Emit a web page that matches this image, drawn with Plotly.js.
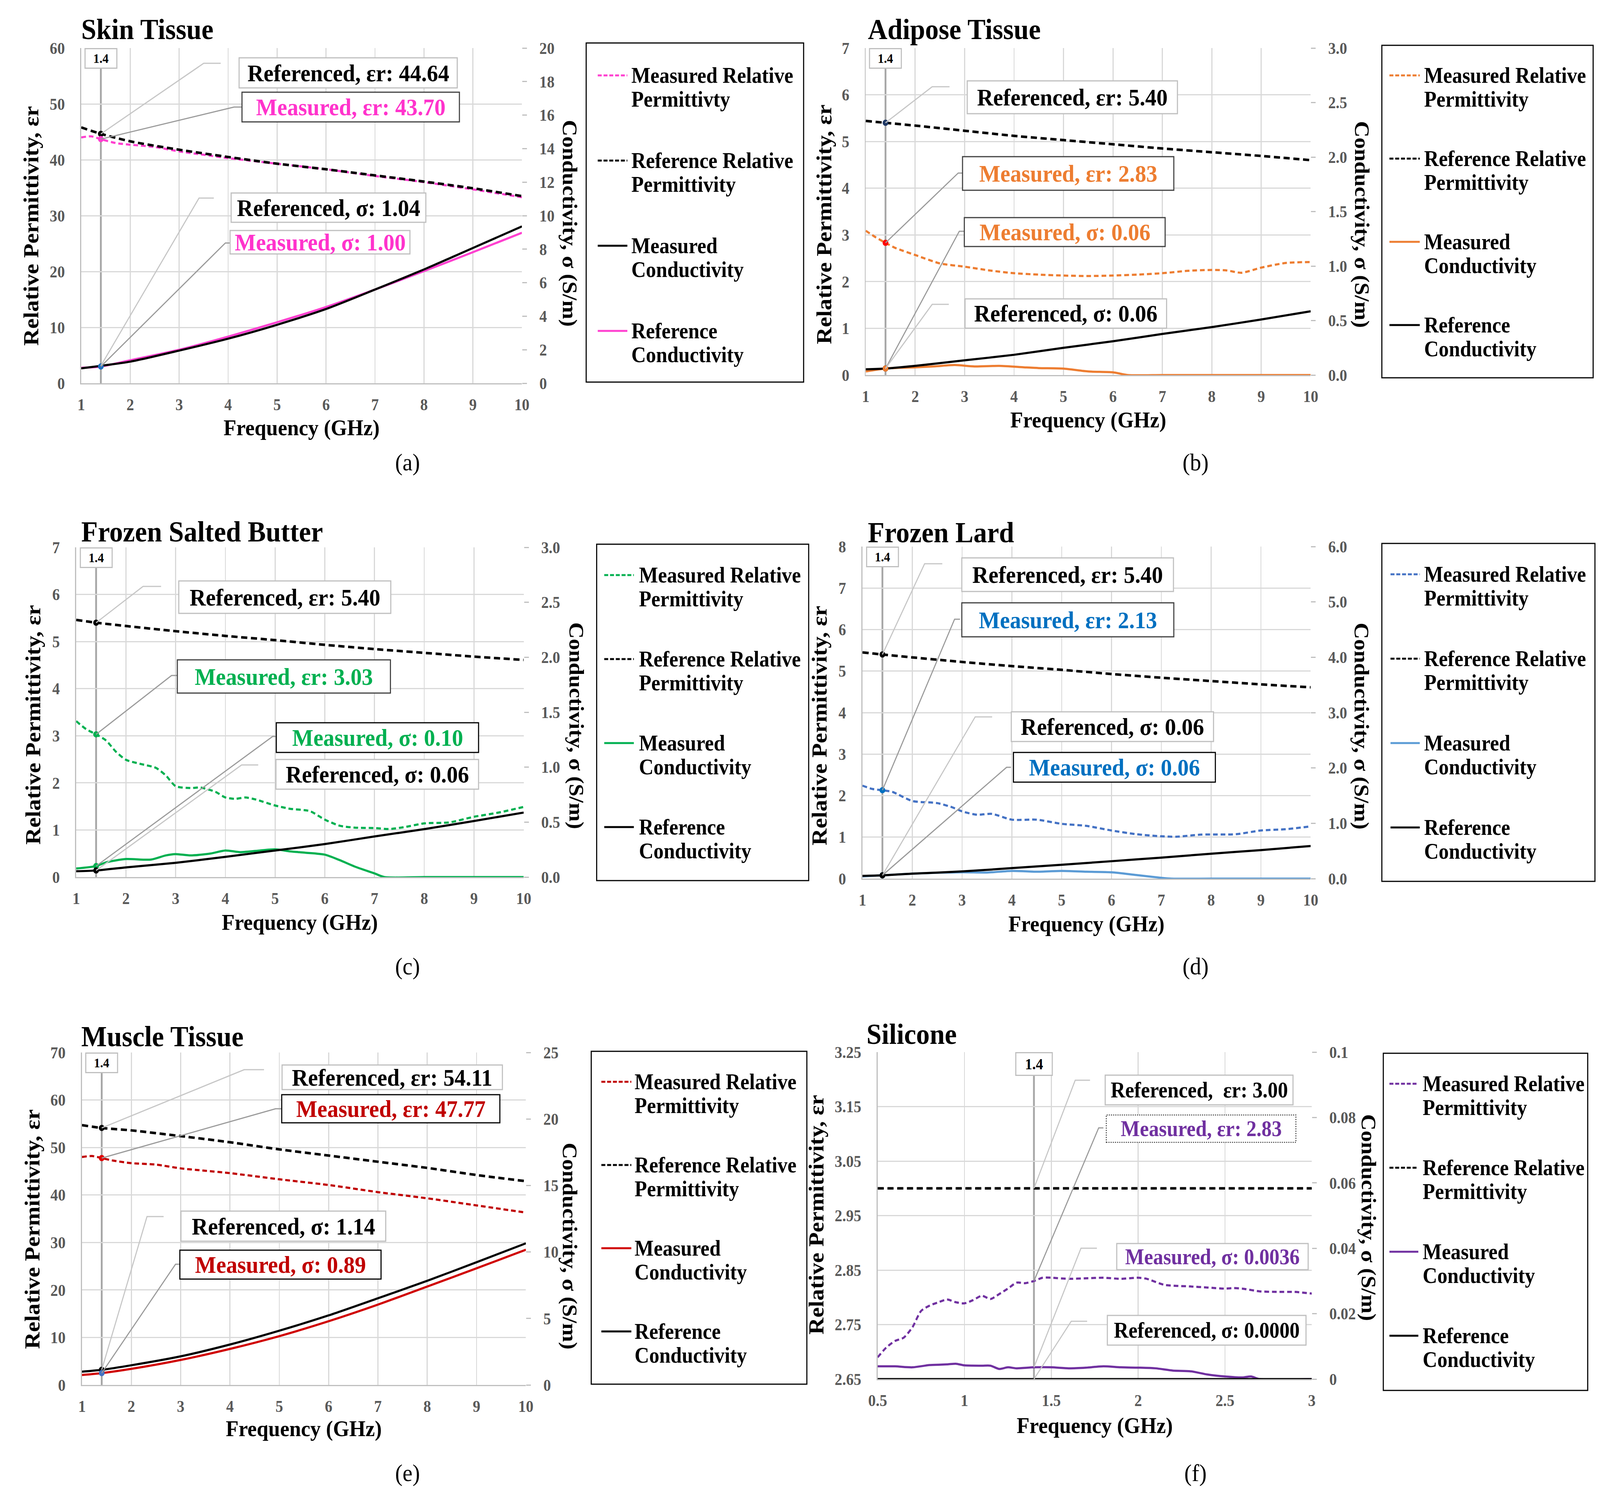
<!DOCTYPE html>
<html>
<head>
<meta charset="utf-8">
<script src="https://cdn.plot.ly/plotly-3.0.1.min.js"></script>
<style>
html, body { margin: 0; padding: 0; background: #fff; overflow: hidden; }
#chart { position: absolute; left: 0; top: 0; width: 4430px; height: 3819px; transform-origin: 0 0; }
</style>
</head>
<body>
<div id="chart"></div>
<script>
"use strict";

// the figure is drawn on the 4430 x 3819 grid of the original and scaled to the window
const W = 4430;
const H = 3819;
const FONT = "Liberation Serif, Times New Roman, serif";
const MARK_X = 1.4;

// ---- values ----

// (a) skin
const skinFreq = [1, 1.4, 2, 3, 4, 5, 6, 7, 8, 9, 10];
const skinRefEr = [45.8, 44.64, 43.3, 41.8, 40.5, 39.3, 38.3, 37.2, 36.1, 34.9, 33.5];
const skinMeasFreq = [1, 1.2, 1.4, 1.7, 2, 2.5, 3, 3.5, 4, 5, 6, 7, 8, 9, 10];
const skinMeasEr = [44.0, 44.2, 43.70, 43.0, 42.7, 42.3, 41.5, 40.9, 40.3, 39.3, 38.3, 37.1, 36.0, 34.7, 33.3];
const skinRefSigma = [0.89, 1.04, 1.29, 1.95, 2.66, 3.49, 4.43, 5.59, 6.79, 8.07, 9.36];
const skinMeasSigma = [0.92, 1.00, 1.37, 2.0, 2.78, 3.64, 4.55, 5.59, 6.69, 7.82, 8.98];

// (b) adipose
const adiposeFreq = [1, 1.4, 2, 3, 4, 5, 6, 7, 8, 9, 10];
const adiposeRefEr = [5.44, 5.40, 5.34, 5.23, 5.12, 5.03, 4.94, 4.85, 4.77, 4.69, 4.60];
const adiposeRefSigma = [0.053, 0.06, 0.084, 0.135, 0.186, 0.25, 0.31, 0.377, 0.44, 0.51, 0.585];
const adiposeMeasFreq = [1, 1.2, 1.4, 1.6, 2, 2.5, 3, 3.5, 4, 4.5, 5, 5.5, 6, 6.5, 7, 7.5, 8, 8.3, 8.6, 9, 9.5, 10];
const adiposeMeasEr = [3.09, 2.95, 2.83, 2.72, 2.57, 2.39, 2.32, 2.24, 2.18, 2.15, 2.13, 2.12, 2.13, 2.15, 2.18, 2.23, 2.25, 2.24, 2.19, 2.30, 2.40, 2.42];
const adiposeSigmaFreq = [1, 1.4, 2, 2.4, 2.8, 3.2, 3.7, 4.2, 4.5, 5, 5.5, 6, 6.3, 7, 8, 9, 10];
const adiposeMeasSigma = [0.033, 0.06, 0.071, 0.08, 0.092, 0.079, 0.084, 0.071, 0.064, 0.059, 0.033, 0.025, 0, 0, 0, 0, 0];

// (c) frozen salted butter
const butterFreq = [1, 1.4, 2, 3, 4, 5, 6, 7, 8, 9, 10];
const butterRefEr = [5.46, 5.40, 5.33, 5.22, 5.12, 5.03, 4.93, 4.84, 4.76, 4.68, 4.61];
const butterRefSigma = [0.053, 0.06, 0.088, 0.13, 0.184, 0.242, 0.30, 0.37, 0.436, 0.51, 0.587];
const butterMeasFreq = [1, 1.2, 1.4, 1.6, 1.8, 2, 2.3, 2.6, 2.8, 3, 3.3, 3.5, 3.8, 4, 4.2, 4.4, 4.6, 5, 5.3, 5.7, 6, 6.3, 6.6, 7, 7.3, 7.6, 8, 8.5, 9, 9.5, 10];
const butterMeasEr = [3.31, 3.14, 3.03, 2.90, 2.66, 2.49, 2.40, 2.32, 2.16, 1.93, 1.89, 1.90, 1.81, 1.69, 1.66, 1.69, 1.65, 1.52, 1.45, 1.40, 1.22, 1.09, 1.05, 1.04, 1.02, 1.06, 1.14, 1.16, 1.28, 1.37, 1.49];
const butterSigmaFreq = [1, 1.4, 1.6, 2, 2.5, 2.8, 3, 3.3, 3.7, 4, 4.3, 4.7, 5, 5.3, 5.6, 6, 6.3, 6.6, 7, 7.2, 8, 9, 10];
const butterMeasSigma = [0.078, 0.10, 0.134, 0.164, 0.159, 0.197, 0.209, 0.197, 0.214, 0.242, 0.227, 0.242, 0.252, 0.234, 0.222, 0.204, 0.154, 0.096, 0.033, 0, 0, 0, 0];

// (d) frozen lard
const lardFreq = [1, 1.4, 2, 3, 4, 5, 6, 7, 8, 9, 10];
const lardRefEr = [5.45, 5.40, 5.33, 5.22, 5.12, 5.03, 4.93, 4.84, 4.76, 4.68, 4.61];
const lardRefSigma = [0.05, 0.06, 0.09, 0.13, 0.19, 0.25, 0.315, 0.38, 0.45, 0.516, 0.59];
const lardMeasFreq = [1, 1.2, 1.4, 1.6, 2, 2.5, 2.8, 3, 3.3, 3.6, 4, 4.5, 5, 5.5, 6, 6.5, 7, 7.3, 7.8, 8.5, 9, 9.5, 10];
const lardMeasEr = [2.24, 2.16, 2.13, 2.09, 1.87, 1.82, 1.72, 1.62, 1.54, 1.56, 1.42, 1.42, 1.32, 1.27, 1.16, 1.07, 1.02, 1.01, 1.06, 1.07, 1.16, 1.19, 1.26];
const lardSigmaFreq = [1, 1.4, 2, 3, 3.5, 4, 4.5, 5, 5.5, 6, 6.5, 7, 7.2, 8, 9, 10];
const lardMeasSigma = [0.04, 0.06, 0.09, 0.115, 0.11, 0.14, 0.125, 0.14, 0.125, 0.115, 0.065, 0.015, 0, 0, 0, 0];

// (e) muscle
const muscleFreq = [1, 1.4, 2, 3, 4, 5, 6, 7, 8, 9, 10];
const muscleRefEr = [54.7, 54.11, 53.6, 52.4, 51.1, 49.6, 48.3, 47.0, 45.7, 44.2, 42.9];
const muscleRefSigma = [1.0, 1.14, 1.48, 2.15, 3.04, 4.08, 5.23, 6.52, 7.83, 9.23, 10.65];
const muscleMeasFreq = [1, 1.2, 1.4, 1.6, 2, 2.5, 3, 3.5, 4, 5, 6, 7, 8, 9, 10];
const muscleMeasEr = [48.0, 48.2, 47.77, 47.3, 46.7, 46.4, 45.6, 45.1, 44.6, 43.3, 42.1, 40.6, 39.3, 37.8, 36.3];
const muscleMeasSigma = [0.75, 0.89, 1.21, 1.88, 2.71, 3.67, 4.79, 6.04, 7.40, 8.77, 10.17];

// (f) silicone
const siliconeFreq = [0.5, 1, 1.4, 1.5, 2, 2.5, 3];
const siliconeRefEr = [3.00, 3.00, 3.00, 3.00, 3.00, 3.00, 3.00];
const siliconeRefSigma = [0, 0, 0, 0, 0, 0, 0];
const siliconeMeasFreq = [0.5, 0.55, 0.6, 0.65, 0.7, 0.75, 0.8, 0.85, 0.9, 0.95, 1.0, 1.05, 1.1, 1.15, 1.2, 1.25, 1.3, 1.35, 1.4, 1.45, 1.5, 1.6, 1.7, 1.8, 1.9, 2.0, 2.05, 2.15, 2.3, 2.4, 2.5, 2.55, 2.6, 2.7, 2.8, 2.9, 3.0];
const siliconeMeasEr = [2.690, 2.708, 2.720, 2.726, 2.745, 2.775, 2.785, 2.791, 2.796, 2.791, 2.789, 2.795, 2.803, 2.797, 2.806, 2.816, 2.827, 2.826, 2.83, 2.836, 2.836, 2.834, 2.835, 2.836, 2.834, 2.836, 2.834, 2.823, 2.820, 2.818, 2.816, 2.817, 2.816, 2.811, 2.810, 2.810, 2.807];
const siliconeSigmaFreq = [0.5, 0.6, 0.7, 0.8, 0.9, 0.95, 1.0, 1.1, 1.15, 1.2, 1.25, 1.3, 1.4, 1.5, 1.6, 1.7, 1.8, 1.9, 2.0, 2.1, 2.2, 2.3, 2.4, 2.5, 2.6, 2.65, 2.7, 3.0];
const siliconeMeasSigma = [0.0039, 0.0039, 0.0036, 0.0043, 0.0045, 0.0047, 0.0042, 0.0041, 0.0041, 0.0031, 0.0036, 0.0033, 0.0036, 0.0036, 0.0033, 0.0035, 0.0039, 0.0036, 0.0035, 0.0033, 0.0026, 0.0024, 0.0014, 0.0008, 0.0005, 0.0008, 0, 0];
const siliconeErTicks = [2.65, 2.75, 2.85, 2.95, 3.05, 3.15, 3.25];
const siliconeSigmaTicks = [0, 0.02, 0.04, 0.06, 0.08, 0.1];

// legend labels
const legendStd = [
	["Measured Relative", "Permittivity"],
	["Reference Relative", "Permittivity"],
	["Measured", "Conductivity"],
	["Reference", "Conductivity"],
];
const legendSkin = [
	["Measured Relative", "Permittivty"],
	["Reference Relative", "Permittivity"],
	["Measured", "Conductivity"],
	["Reference", "Conductivity"],
];

const GRAY_BOX = "#bfbfbf";
const DARK_BOX = "#404040";
const LEAD_REF = "#c6c6c6";
const LEAD_MEAS = "#9a9a9a";

function callout(s, label, dec, color, border, box, elbow, stub, lead, dash) {
	return { s, label, dec, color, border, box, elbow, stub, lead, dash: dash || "solid" };
}

// layout of each panel, in pixels of the original figure
const panels = [
	{
		title: "Skin Tissue", caption: "(a)", titleAt: [223, 74], captionAt: [1128, 1183],
		box: [225, 1445, 123, 981],
		xr: [1, 10], xdtick: 1,
		yr: [0, 60], ydtick: 10, yfmt: "",
		y2r: [0, 20], y2dtick: 2, y2fmt: "",
		yTitleAt: [86, 578], y2TitleAt: [1578, 571], xTitleAt: [835, 1088],
		markFont: 34,
		calloutSize: 62,
		series: {
			measEr: { x: skinMeasFreq, y: skinMeasEr, side: "L" },
			refEr: { x: skinFreq, y: skinRefEr, side: "L" },
			measSigma: { x: skinFreq, y: skinMeasSigma, side: "R" },
			refSigma: { x: skinFreq, y: skinRefSigma, side: "R" },
		},
		colors: { measEr: "#FF40D0", refEr: "#000000", measSigma: "#FF40D0", refSigma: "#000000" },
		markers: [["refEr", "#000000"], ["measEr", "#FF40D0"], ["measSigma", "#1F6FC0"]],
		callouts: [
			callout("refEr", "Referenced, εr: ", 2, "#000", GRAY_BOX, [662, 1266, 148, 225], [564, 162], 611, LEAD_REF),
			callout("measEr", "Measured, εr: ", 2, "#FF33CC", DARK_BOX, [670, 1272, 236, 312], [648, 274], 670, LEAD_MEAS),
			callout("refSigma", "Referenced, σ: ", 2, "#000", GRAY_BOX, [640, 1179, 494, 569], [551, 507], 592, LEAD_REF),
			callout("measSigma", "Measured, σ: ", 2, "#FF33CC", GRAY_BOX, [637, 1135, 590, 650], [624, 622], 637, LEAD_MEAS),
		],
		legend: {
			box: [1623, 2225, 110, 978], top: 83, step: 218, sx0: 32, sx1: 114, tx: 123,
			labels: legendSkin,
			samples: [["#FF40D0", true], ["#000000", true], ["#000000", false], ["#FF40D0", false]],
		},
	},
	{
		title: "Adipose Tissue", caption: "(b)", titleAt: [2401, 74], captionAt: [3310, 1183],
		box: [2397, 3629, 123, 960],
		xr: [1, 10], xdtick: 1,
		yr: [0, 7], ydtick: 1, yfmt: "",
		y2r: [0, 3], y2dtick: 0.5, y2fmt: ".1f",
		yTitleAt: [2282, 574], y2TitleAt: [3771, 574], xTitleAt: [3013, 1068],
		markFont: 34,
		calloutSize: 62,
		series: {
			measEr: { x: adiposeMeasFreq, y: adiposeMeasEr, side: "L" },
			refEr: { x: adiposeFreq, y: adiposeRefEr, side: "L" },
			measSigma: { x: adiposeSigmaFreq, y: adiposeMeasSigma, side: "R" },
			refSigma: { x: adiposeFreq, y: adiposeRefSigma, side: "R" },
		},
		colors: { measEr: "#ED7D31", refEr: "#000000", measSigma: "#ED7D31", refSigma: "#000000" },
		markers: [["refEr", "#1F3864"], ["measEr", "#FF0000"], ["refSigma", "#000000"], ["measSigma", "#ED7D31"]],
		callouts: [
			callout("refEr", "Referenced, εr: ", 2, "#000", GRAY_BOX, [2678, 3260, 207, 291], [2581, 222], 2629, LEAD_REF),
			callout("measEr", "Measured, εr: ", 2, "#ED7D31", DARK_BOX, [2665, 3250, 401, 487], [2653, 443], 2665, LEAD_MEAS),
			callout("measSigma", "Measured, σ: ", 2, "#ED7D31", DARK_BOX, [2670, 3226, 557, 631], [2656, 592], 2670, LEAD_MEAS),
			callout("refSigma", "Referenced, σ: ", 2, "#000", GRAY_BOX, [2672, 3230, 765, 840], [2581, 779], 2627, LEAD_REF),
		],
		legend: {
			box: [3826, 4411, 116, 967], top: 77, step: 213, sx0: 21, sx1: 105, tx: 115,
			labels: legendStd,
			samples: [["#ED7D31", true], ["#000000", true], ["#ED7D31", false], ["#000000", false]],
		},
	},
	{
		title: "Frozen Salted Butter", caption: "(c)", titleAt: [223, 1360], captionAt: [1128, 2473],
		box: [211, 1450, 1401, 2245],
		xr: [1, 10], xdtick: 1,
		yr: [0, 7], ydtick: 1, yfmt: "",
		y2r: [0, 3], y2dtick: 0.5, y2fmt: ".1f",
		yTitleAt: [91, 1855], y2TitleAt: [1597, 1857], xTitleAt: [830, 2354],
		markFont: 34,
		calloutSize: 62,
		series: {
			measEr: { x: butterMeasFreq, y: butterMeasEr, side: "L" },
			refEr: { x: butterFreq, y: butterRefEr, side: "L" },
			measSigma: { x: butterSigmaFreq, y: butterMeasSigma, side: "R" },
			refSigma: { x: butterFreq, y: butterRefSigma, side: "R" },
		},
		colors: { measEr: "#00B050", refEr: "#000000", measSigma: "#00B050", refSigma: "#000000" },
		markers: [["refEr", "#000000"], ["measEr", "#00B050"], ["measSigma", "#00B050"], ["refSigma", "#000000"]],
		callouts: [
			callout("refEr", "Referenced, εr: ", 2, "#000", GRAY_BOX, [495, 1082, 1487, 1570], [396, 1501], 446, LEAD_REF),
			callout("measEr", "Measured, εr: ", 2, "#00B050", DARK_BOX, [491, 1081, 1689, 1774], [475, 1729], 491, LEAD_MEAS),
			callout("measSigma", "Measured, σ: ", 2, "#00B050", "#000000", [765, 1325, 1850, 1926], [755, 1885], 765, LEAD_MEAS),
			callout("refSigma", "Referenced, σ: ", 2, "#000", GRAY_BOX, [764, 1325, 1944, 2020], [669, 1958], 715, LEAD_REF),
		],
		legend: {
			box: [1652, 2239, 1393, 2254], top: 79, step: 215, sx0: 21, sx1: 103, tx: 115,
			labels: legendStd,
			samples: [["#00B050", true], ["#000000", true], ["#00B050", false], ["#000000", false]],
		},
	},
	{
		title: "Frozen Lard", caption: "(d)", titleAt: [2401, 1362], captionAt: [3310, 2473],
		box: [2388, 3629, 1399, 2249],
		xr: [1, 10], xdtick: 1,
		yr: [0, 8], ydtick: 1, yfmt: "",
		y2r: [0, 6], y2dtick: 1, y2fmt: ".1f",
		yTitleAt: [2269, 1857], y2TitleAt: [3771, 1858], xTitleAt: [3008, 2358],
		markFont: 34,
		calloutSize: 62,
		series: {
			measEr: { x: lardMeasFreq, y: lardMeasEr, side: "L" },
			refEr: { x: lardFreq, y: lardRefEr, side: "L" },
			measSigma: { x: lardSigmaFreq, y: lardMeasSigma, side: "R" },
			refSigma: { x: lardFreq, y: lardRefSigma, side: "R" },
		},
		colors: { measEr: "#4472C4", refEr: "#000000", measSigma: "#5B9BD5", refSigma: "#000000" },
		markers: [["refEr", "#000000"], ["measEr", "#0070C0"], ["measSigma", "#0070C0"], ["refSigma", "#000000"]],
		callouts: [
			callout("refEr", "Referenced, εr: ", 2, "#000", GRAY_BOX, [2663, 3249, 1428, 1514], [2560, 1443], 2609, LEAD_REF),
			callout("measEr", "Measured, εr: ", 2, "#0070C0", DARK_BOX, [2663, 3250, 1543, 1630], [2643, 1585], 2658, LEAD_MEAS),
			callout("refSigma", "Referenced, σ: ", 2, "#000", GRAY_BOX, [2800, 3360, 1822, 1898], [2700, 1835], 2747, LEAD_REF),
			callout("measSigma", "Measured, σ: ", 2, "#0070C0", "#000000", [2806, 3365, 1926, 2002], [2787, 1964], 2799, LEAD_MEAS),
		],
		legend: {
			box: [3826, 4416, 1391, 2256], top: 79, step: 216, sx0: 24, sx1: 105, tx: 115,
			labels: legendStd,
			samples: [["#4472C4", true], ["#000000", true], ["#5B9BD5", false], ["#000000", false]],
		},
	},
	{
		title: "Muscle Tissue", caption: "(e)", titleAt: [223, 2652], captionAt: [1128, 3770],
		box: [227, 1456, 2694, 3545],
		xr: [1, 10], xdtick: 1,
		yr: [0, 70], ydtick: 10, yfmt: "",
		y2r: [0, 25], y2dtick: 5, y2fmt: "",
		yTitleAt: [89, 3146], y2TitleAt: [1578, 3189], xTitleAt: [841, 3650],
		markFont: 34,
		calloutSize: 62,
		series: {
			measEr: { x: muscleMeasFreq, y: muscleMeasEr, side: "L" },
			refEr: { x: muscleFreq, y: muscleRefEr, side: "L" },
			measSigma: { x: muscleFreq, y: muscleMeasSigma, side: "R" },
			refSigma: { x: muscleFreq, y: muscleRefSigma, side: "R" },
		},
		colors: { measEr: "#C00000", refEr: "#000000", measSigma: "#D00000", refSigma: "#000000" },
		markers: [["refEr", "#000000"], ["measEr", "#E00000"], ["refSigma", "#000000"], ["measSigma", "#4472C4"]],
		callouts: [
			callout("refEr", "Referenced, εr: ", 2, "#000", GRAY_BOX, [781, 1391, 2726, 2789], [676, 2738], 731, LEAD_REF),
			callout("measEr", "Measured, εr: ", 2, "#C00000", "#000000", [780, 1384, 2802, 2874], [763, 2838], 780, LEAD_MEAS),
			callout("refSigma", "Referenced, σ: ", 2, "#000", GRAY_BOX, [501, 1068, 3100, 3177], [407, 3114], 453, LEAD_REF),
			callout("measSigma", "Measured, σ: ", 2, "#C00000", "#000000", [498, 1055, 3200, 3274], [486, 3236], 498, LEAD_MEAS),
		],
		legend: {
			box: [1637, 2234, 2691, 3543], top: 78, step: 213, sx0: 28, sx1: 111, tx: 118,
			labels: legendStd,
			samples: [["#C00000", true], ["#000000", true], ["#D00000", false], ["#000000", false]],
		},
	},
	{
		title: "Silicone", caption: "(f)", titleAt: [2397, 2646], captionAt: [3310, 3770],
		box: [2430, 3632, 2693, 3530],
		xr: [0.5, 3], xdtick: 0.5,
		yr: [2.65, 3.25], yticks: siliconeErTicks, yfmt: ".2f",
		y2r: [0, 0.1], y2ticks: siliconeSigmaTicks, y2fmt: "",
		yTitleAt: [2260, 3109], y2TitleAt: [3790, 3116], xTitleAt: [3031, 3642],
		markFont: 40,
		calloutSize: 56,
		series: {
			measEr: { x: siliconeMeasFreq, y: siliconeMeasEr, side: "L" },
			refEr: { x: siliconeFreq, y: siliconeRefEr, side: "L" },
			measSigma: { x: siliconeSigmaFreq, y: siliconeMeasSigma, side: "R" },
			refSigma: { x: siliconeFreq, y: siliconeRefSigma, side: "R" },
		},
		colors: { measEr: "#7030A0", refEr: "#000000", measSigma: "#7030A0", refSigma: "#000000" },
		markers: [],
		callouts: [
			callout("refEr", "Referenced,  εr: ", 2, "#000", GRAY_BOX, [3060, 3580, 2752, 2828], [2977, 2765], 3018, LEAD_REF),
			callout("measEr", "Measured, εr: ", 2, "#7030A0", DARK_BOX, [3063, 3588, 2854, 2924], [3042, 2887], 3055, LEAD_MEAS, "dot"),
			callout("measSigma", "Measured, σ: ", 4, "#7030A0", GRAY_BOX, [3092, 3622, 3183, 3250], [2993, 3195], 3037, LEAD_REF),
			callout("refSigma", "Referenced, σ: ", 4, "#000", GRAY_BOX, [3066, 3616, 3367, 3443], [2966, 3382], 3010, LEAD_REF),
		],
		legend: {
			box: [3830, 4396, 2696, 3559], top: 78, step: 215, sx0: 17, sx1: 97, tx: 107,
			labels: legendStd,
			samples: [["#7030A0", true], ["#000000", true], ["#7030A0", false], ["#000000", false]],
		},
	},
];

const SERIES_NAMES = {
	measEr: "Measured Relative Permittivity",
	refEr: "Reference Relative Permittivity",
	measSigma: "Measured Conductivity",
	refSigma: "Reference Conductivity",
};

function fx(x) { return x / W; }
function fy(y) { return 1 - y / H; }

function axisIds(i) {
	return {
		x: i === 0 ? "x" : "x" + (i + 1),
		yl: i === 0 ? "y" : "y" + (2 * i + 1),
		yr: "y" + (2 * i + 2),
	};
}

function layoutKey(id) {
	return id.charAt(0) + "axis" + id.slice(1);
}

// pixel position inside a panel -> data units of one of its axes
function toDataX(p, px) {
	return p.xr[0] + (px - p.box[0]) / (p.box[1] - p.box[0]) * (p.xr[1] - p.xr[0]);
}
function toDataY(p, py, side) {
	const r = side === "R" ? p.y2r : p.yr;
	return r[0] + (p.box[3] - py) / (p.box[3] - p.box[2]) * (r[1] - r[0]);
}

function valueAtMark(s) {
	return s.y[s.x.indexOf(MARK_X)];
}

function font(size, color, weight) {
	return { family: FONT, size, color: color || "#000", weight: weight || "bold" };
}

function text(x, y, str, f, extra) {
	return Object.assign({
		xref: "paper", yref: "paper", x: fx(x), y: fy(y),
		text: str, showarrow: false, font: f,
		xanchor: "center", yanchor: "middle",
	}, extra || {});
}

function rect(b, color, width, dash) {
	return {
		type: "rect", xref: "paper", yref: "paper", layer: "above",
		x0: fx(b[0]), x1: fx(b[1]), y0: fy(b[3]), y1: fy(b[2]),
		fillcolor: "#ffffff",
		line: { color, width, dash: dash || "solid" },
	};
}

const data = [];
const shapes = [];
const annotations = [];
const layout = {
	width: W,
	height: H,
	autosize: false,
	margin: { l: 0, r: 0, t: 0, b: 0, pad: 0 },
	paper_bgcolor: "#ffffff",
	plot_bgcolor: "#ffffff",
	showlegend: false,
	font: { family: FONT },
	hovermode: "closest",
};

const tickFont = font(42, "#595959");

panels.forEach((p, i) => {
	const ids = axisIds(i);

	layout[layoutKey(ids.x)] = {
		domain: [fx(p.box[0]), fx(p.box[1])], anchor: ids.yl,
		range: p.xr, tick0: p.xr[0], dtick: p.xdtick,
		showgrid: true, gridcolor: "#d9d9d9", gridwidth: 3,
		showline: true, linecolor: "#bfbfbf", linewidth: 3,
		zeroline: false, ticks: "", tickfont: tickFont,
		ticklabelstandoff: 16, fixedrange: true,
	};

	const left = {
		domain: [fy(p.box[3]), fy(p.box[2])], anchor: ids.x,
		range: p.yr,
		showgrid: true, gridcolor: "#d9d9d9", gridwidth: 3,
		showline: true, linecolor: "#bfbfbf", linewidth: 3,
		zeroline: false, ticks: "", tickfont: tickFont,
		tickformat: p.yfmt, ticklabelstandoff: 34, fixedrange: true,
	};
	if (p.yticks) {
		left.tickmode = "array";
		left.tickvals = p.yticks;
	} else {
		left.tick0 = p.yr[0];
		left.dtick = p.ydtick;
	}
	layout[layoutKey(ids.yl)] = left;

	const right = {
		overlaying: ids.yl, side: "right", anchor: ids.x,
		range: p.y2r,
		showgrid: false, zeroline: false, showline: false,
		ticks: "outside", ticklen: 13, tickwidth: 3, tickcolor: "#bfbfbf",
		tickfont: tickFont, tickformat: p.y2fmt,
		ticklabelstandoff: 26, fixedrange: true,
	};
	if (p.y2ticks) {
		right.tickmode = "array";
		right.tickvals = p.y2ticks;
	} else {
		right.tick0 = p.y2r[0];
		right.dtick = p.y2dtick;
	}
	layout[layoutKey(ids.yr)] = right;

	const axisOf = s => (s.side === "R" ? ids.yr : ids.yl);

	// curves
	["measEr", "refEr", "measSigma", "refSigma"].forEach(key => {
		const s = p.series[key];
		const dashed = key === "measEr" || key === "refEr";
		data.push({
			type: "scatter",
			mode: "lines",
			name: SERIES_NAMES[key],
			x: s.x,
			y: s.y,
			xaxis: ids.x,
			yaxis: axisOf(s),
			line: {
				color: p.colors[key],
				width: key === "refEr" ? 6.5 : 5.5,
				dash: key === "refEr" ? "17px,10px" : (dashed ? "13px,8px" : "solid"),
				shape: "spline",
				smoothing: 0.7,
			},
			showlegend: false,
		});
	});

	// marker line at 1.4 GHz
	shapes.push({
		type: "line", layer: "below",
		xref: ids.x, yref: "paper",
		x0: MARK_X, x1: MARK_X, y0: fy(p.box[3]), y1: fy(p.box[2]),
		line: { color: "#a6a6a6", width: 5 },
	});
	annotations.push({
		xref: ids.x, yref: "paper",
		x: MARK_X, y: fy(p.box[2]), xanchor: "center", yanchor: "top",
		text: "1.4", showarrow: false,
		font: font(p.markFont, "#000"),
		bgcolor: "#ffffff", bordercolor: "#bfbfbf", borderwidth: 3, borderpad: 5,
		width: p.markFont * 2.2,
	});

	// dots at 1.4 GHz
	p.markers.forEach(([key, color]) => {
		const s = p.series[key];
		data.push({
			type: "scatter",
			mode: "markers",
			name: SERIES_NAMES[key] + " @ 1.4 GHz",
			x: [MARK_X],
			y: [valueAtMark(s)],
			xaxis: ids.x,
			yaxis: axisOf(s),
			marker: { size: 16, color },
			showlegend: false,
		});
	});

	// callouts: leader line from the point, box, label
	p.callouts.forEach(c => {
		const s = p.series[c.s];
		const v = valueAtMark(s);
		const ex = toDataX(p, c.elbow[0]);
		const ey = toDataY(p, c.elbow[1], s.side);
		const sx = toDataX(p, c.stub);
		shapes.push({
			type: "path", layer: "above",
			xref: ids.x, yref: axisOf(s),
			path: "M" + MARK_X + "," + v + " L" + ex + "," + ey + " L" + sx + "," + ey,
			line: { color: c.lead, width: 3 },
		});
		shapes.push(rect(c.box, c.border, c.dash === "dot" ? 2.5 : 3, c.dash));
		annotations.push(text(
			(c.box[0] + c.box[1]) / 2, (c.box[2] + c.box[3]) / 2,
			c.label + v.toFixed(c.dec),
			font(p.calloutSize, c.color)
		));
	});

	// titles
	annotations.push(text(p.titleAt[0], p.titleAt[1], p.title, font(75), { xanchor: "left" }));
	annotations.push(text(p.captionAt[0], p.captionAt[1], p.caption, font(62, "#000", "normal")));
	annotations.push(text(p.xTitleAt[0], p.xTitleAt[1] + 6, "Frequency (GHz)", font(58)));
	annotations.push(text(p.yTitleAt[0], p.yTitleAt[1], "Relative Permittivity, εr", font(60), { textangle: -90 }));
	annotations.push(text(p.y2TitleAt[0], p.y2TitleAt[1], "Conductivity, σ (S/m)", font(58), { textangle: 90 }));

	// legend box
	const lg = p.legend;
	shapes.push(rect(lg.box, "#000000", 3));
	lg.labels.forEach((lines, k) => {
		const y0 = lg.box[2] + lg.top + k * lg.step;
		const [color, dashed] = lg.samples[k];
		shapes.push({
			type: "line", xref: "paper", yref: "paper", layer: "above",
			x0: fx(lg.box[0] + lg.sx0), x1: fx(lg.box[0] + lg.sx1),
			y0: fy(y0), y1: fy(y0),
			line: { color, width: 5, dash: dashed ? "11px,5px" : "solid" },
		});
		lines.forEach((str, j) => {
			annotations.push(text(lg.box[0] + lg.tx, y0 + j * 61, str, font(56), { xanchor: "left" }));
		});
	});
});

layout.shapes = shapes;
layout.annotations = annotations;

// fit the 4430 x 3819 drawing into the window the page is opened in
function fitToWindow() {
	const el = document.getElementById("chart");
	const sx = Math.min(1, (window.innerWidth || W) / W);
	const sy = Math.min(1, (window.innerHeight || H) / H);
	el.style.transform = "scale(" + sx + "," + sy + ")";
}

fitToWindow();
Plotly.newPlot("chart", data, layout, { staticPlot: true, displayModeBar: false });
</script>
</body>
</html>
